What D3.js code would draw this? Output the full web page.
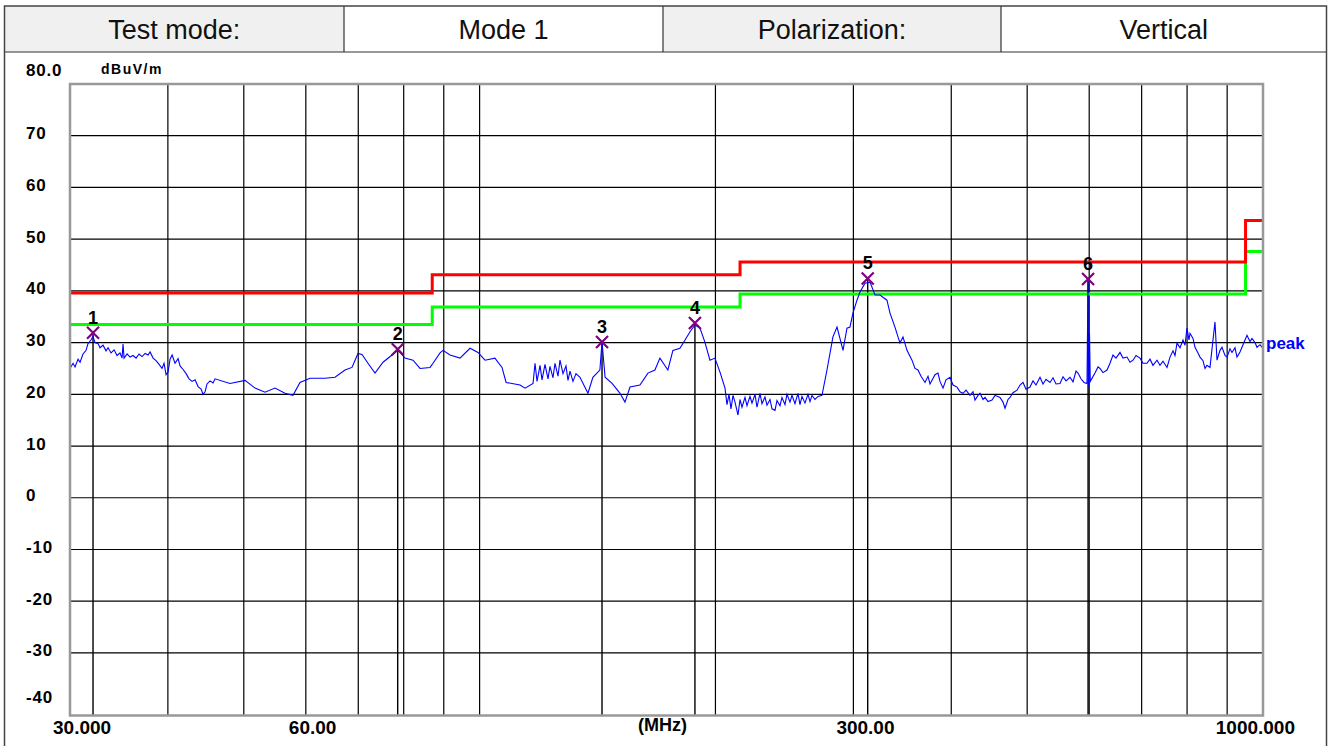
<!DOCTYPE html>
<html>
<head>
<meta charset="utf-8">
<script src="https://cdn.jsdelivr.net/npm/d3@7"></script>
<style>
  html, body { margin: 0; padding: 0; background: #fff; }
  svg { display: block; }
  text { font-family: "Liberation Sans", Arial, sans-serif; }
</style>
</head>
<body>
<svg id="chart" width="1333" height="746"></svg>
<script>
// ---------------- data ----------------
const headerTexts = ["Test mode:", "Mode 1", "Polarization:", "Vertical"];
const yUnit = "dBuV/m";
const xUnit = "(MHz)";
const yTickValues = [70, 60, 50, 40, 30, 20, 10, 0, -10, -20, -30];
const yLabelValues = [80, 70, 60, 50, 40, 30, 20, 10, 0, -10, -20, -30, -40];
const xGridFreqs = [40, 50, 60, 70, 80, 90, 100, 200, 300, 400, 500, 600, 700, 800, 900];
const xLabelFreqs = [30, 60, 300, 1000];
const xLabelTexts = ["30.000", "60.00", "300.00", "1000.000"];

const limitFreqs = [30, 87, 215, 950, 1000];
const limitQP = [39.6, 43.1, 45.6, 53.6];
const limitMargin = [33.5, 36.9, 39.4, 47.6];

// measured peak trace (MHz / dBuV/m)
const traceFreqs = [
  // 30 - 46 MHz
  30.00, 30.27, 30.45, 30.72, 30.90, 31.17, 31.45, 31.63, 31.91, 32.10,
  32.29, 32.58, 32.77, 33.06, 33.35, 33.55, 33.85, 34.15, 34.45, 34.75,
  34.96, 35.06, 35.17, 35.48, 35.79, 36.11, 36.43, 36.75, 37.08, 37.41,
  37.74, 37.96, 38.30, 38.63, 38.98, 39.32, 39.55, 39.79, 40.02, 40.26,
  40.50, 40.85, 41.22, 41.46, 41.83, 42.20, 42.57, 42.95, 43.33, 43.71,
  44.10, 44.36, 44.62, 44.88, 45.28, 45.68, 45.95,
  // 48 - 114 MHz
  48.01, 50.18, 51.68, 53.22, 54.80, 56.44, 57.78, 58.98, 60.74, 63.48,
  65.37, 67.32, 68.72, 69.95, 70.77, 72.03, 73.53, 75.28, 77.30, 78.67,
  80.31, 82.22, 83.93, 86.44, 87.20, 89.02, 89.81, 91.67, 94.40, 97.22,
  99.53, 101.6, 104.6, 106.8, 108.1, 112.6, 114.3,
  // 117 - 134 MHz
  117.0, 117.69, 118.38, 119.43, 120.13, 121.19, 122.26, 122.98, 124.07, 124.80,
  125.91, 126.65, 127.77, 128.90, 129.66, 130.43, 131.58, 132.74, 134.32,
  // 137 - 206 MHz
  137.5, 139.5, 142.4, 143.3, 144.6, 147.6, 151.1, 153.3, 155.6, 160.2,
  164.0, 167.4, 169.9, 173.9, 176.5, 180.2, 182.9, 185.6, 188.3, 191.1,
  193.9, 196.8, 199.7, 202.7, 205.7,
  // 207 - 274 MHz
  206.91, 208.13, 209.36, 210.59, 211.84, 213.71, 214.97, 216.24, 218.16, 219.44,
  221.38, 222.69, 224.66, 225.98, 227.98, 229.33, 231.36, 232.72, 234.78, 236.16,
  238.25, 239.66, 241.78, 243.21, 245.36, 246.81, 248.99, 250.46, 252.68, 254.92,
  256.42, 257.93, 260.21, 262.52, 264.07, 265.63, 267.98, 270.35, 273.55,
  // 277 - 351 MHz
  277.6, 282.5, 285.9, 291.0, 294.4, 297.0, 299.6, 303.2, 305.9, 310.4,
  315.0, 319.7, 324.4, 331.1, 334.1, 339.0, 344.0, 347.1, 351.2,
  // 356 - 596 MHz
  356.40, 359.56, 362.74, 365.96, 370.29, 373.57, 375.77, 377.99, 381.33, 384.71,
  386.98, 390.41, 393.87, 398.53, 402.06, 406.81, 410.41, 414.05, 417.71, 422.65,
  426.39, 428.91, 432.71, 435.26, 439.12, 441.71, 445.62, 450.89, 454.88, 461.62,
  465.71, 468.46, 472.61, 475.40, 479.61, 485.28, 489.58, 493.91, 498.29, 504.18,
  508.64, 513.15, 519.21, 523.81, 528.45, 534.70, 539.43, 544.21, 550.64, 555.52,
  560.44, 567.07, 572.09, 577.16, 580.56, 585.70, 590.89, 596.12,
  // spike near 598 MHz
  597.9, 598.8, 600.5, 601.9,
  // 610 - 1000 MHz
  610.30, 615.70, 619.34, 624.83, 632.22, 637.82, 643.47, 649.17, 656.85, 662.66,
  670.50, 676.44, 682.43, 688.47, 696.61, 702.78, 711.09, 717.39, 723.74, 732.30,
  738.79, 745.33, 754.15, 760.83, 767.56, 772.09, 776.64, 783.52, 790.46, 795.12,
  799.81, 804.52, 806.89, 814.03, 818.83, 826.08, 830.95, 838.31, 843.25, 848.22,
  855.73, 863.31, 868.40, 873.52, 881.25, 886.45, 894.30, 899.57, 907.54, 912.89,
  920.97, 926.40, 934.61, 940.12, 948.44, 954.03, 962.48, 968.15, 976.73, 982.49,
  991.19, 1000.0
];
const traceLevels = [
  // 30 - 46 MHz
  25.0, 26.0, 25.3, 26.8, 26.2, 27.8, 28.5, 29.8, 30.5, 31.2,
  30.0, 29.8, 29.0, 29.5, 28.4, 29.0, 28.0, 28.6, 27.5, 28.0,
  27.0, 29.7, 27.0, 27.8, 27.2, 27.5, 27.0, 27.8, 27.3, 27.9,
  27.6, 28.2, 27.0, 26.5, 25.8, 25.0, 26.0, 23.8, 24.3, 26.8,
  27.6, 26.0, 26.9, 25.5, 24.8, 24.0, 23.0, 22.5, 22.8, 21.5,
  21.0, 20.0, 20.5, 22.0, 22.6, 22.2, 23.0,
  // 48 - 114 MHz
  22.1, 22.7, 21.2, 20.4, 21.2, 20.2, 19.8, 22.3, 23.1, 23.1,
  23.3, 24.7, 25.2, 27.9, 27.7, 26.0, 24.1, 26.2, 27.6, 28.5,
  27.0, 26.6, 25.0, 25.2, 26.0, 28.0, 28.5, 27.6, 27.0, 28.9,
  28.1, 26.6, 27.0, 25.2, 22.3, 21.8, 21.2,
  // 117 - 134 MHz
  22.1, 26.0, 22.5, 25.6, 22.8, 25.8, 23.0, 25.4, 23.2, 26.0,
  23.5, 26.6, 24.0, 25.5, 22.7, 24.5, 22.5, 24.0, 23.3,
  // 137 - 206 MHz
  20.2, 23.3, 24.7, 30.1, 23.3, 22.1, 20.2, 18.5, 21.4, 21.8,
  24.1, 24.7, 27.0, 24.7, 28.5, 28.9, 30.5, 32.1, 33.4, 32.8,
  30.1, 26.6, 27.0, 24.3, 21.2,
  // 207 - 274 MHz
  18.0, 20.0, 17.2, 19.8, 18.5, 16.0, 19.0, 17.5, 19.4, 17.8,
  19.6, 18.3, 20.0, 17.5, 20.2, 18.2, 19.5, 17.9, 19.0, 17.2,
  16.9, 18.8, 17.8, 19.4, 18.0, 20.0, 18.5, 19.8, 18.2, 20.2,
  18.0, 19.6, 18.3, 20.0, 18.6, 19.8, 19.0, 19.6, 19.8,
  // 277 - 351 MHz
  24.7, 31.1, 33.0, 28.5, 32.8, 33.0, 35.7, 38.2, 39.8, 41.5,
  41.7, 39.2, 39.2, 38.2, 35.7, 33.0, 29.9, 31.1, 28.5,
  // 356 - 596 MHz
  26.6, 25.0, 24.7, 23.5, 22.3, 23.5, 22.0, 22.7, 23.8, 24.1,
  22.5, 21.2, 22.8, 23.3, 21.8, 21.4, 20.5, 20.2, 20.8, 19.8,
  20.5, 18.9, 19.8, 20.2, 19.0, 19.4, 18.6, 18.9, 19.8, 19.4,
  18.5, 17.3, 19.0, 19.4, 20.3, 20.8, 21.8, 22.3, 21.0, 21.4,
  22.6, 21.8, 23.3, 22.0, 22.9, 22.3, 23.2, 22.0, 22.1, 23.4,
  22.6, 23.3, 22.4, 24.5, 24.1, 23.0, 22.3, 22.1,
  // spike near 598 MHz
  42.1, 21.5, 31.8, 22.5,
  // 610 - 1000 MHz
  24.1, 25.3, 25.0, 24.2, 24.7, 26.0, 27.6, 27.0, 28.1, 27.0,
  27.2, 26.2, 26.6, 27.5, 27.0, 26.0, 26.0, 26.8, 25.6, 26.6,
  25.6, 26.4, 25.2, 27.2, 28.4, 27.5, 29.9, 29.0, 30.5, 29.5,
  32.8, 30.5, 31.8, 30.8, 29.1, 28.0, 27.2, 26.5, 25.0, 25.6,
  25.2, 30.5, 34.0, 26.6, 28.5, 29.1, 27.5, 27.2, 28.8, 28.1,
  29.0, 27.2, 28.2, 29.1, 30.5, 31.4, 30.2, 30.8, 30.0, 29.1,
  29.6, 28.9
];

const markerIds = ["1", "2", "3", "4", "5", "6"];
const markerFreqs = [32.1, 78.6, 143.3, 188.3, 312.9, 598.0];
const markerLevels = [31.9, 28.7, 30.1, 33.8, 42.4, 42.3];
const traceName = "peak";

// ---------------- layout ----------------
const W = 1333, H = 746;
const outer = { x0: 4.5, x1: 1326.5, y0: 6, headerBottom: 52 };
const plot = { left: 70, right: 1263, top: 84, bottom: 715.5 };
const headerCols = [4.5, 344, 663, 1001, 1326.5];
const headerFill = ["#f0f0f0", "#ffffff", "#f0f0f0", "#ffffff"];

const svg = d3.select("#chart");

const x = d3.scaleLog().domain([30, 1000]).range([plot.left, plot.right]);
const y = d3.scaleLinear().domain([-42.1, 80]).range([plot.bottom, plot.top]);

// ---------------- header table ----------------
const hdr = svg.append("g");
headerTexts.forEach((t, i) => {
  hdr.append("rect")
    .attr("x", headerCols[i]).attr("y", outer.y0)
    .attr("width", headerCols[i + 1] - headerCols[i])
    .attr("height", outer.headerBottom - outer.y0)
    .attr("fill", headerFill[i]);
  hdr.append("text")
    .attr("x", (headerCols[i] + headerCols[i + 1]) / 2)
    .attr("y", (outer.y0 + outer.headerBottom) / 2 + 1)
    .attr("text-anchor", "middle").attr("dominant-baseline", "central")
    .attr("font-size", 27).attr("fill", "#111")
    .text(t);
});
headerCols.slice(1, -1).forEach(cx => {
  hdr.append("line").attr("x1", cx).attr("x2", cx)
    .attr("y1", outer.y0).attr("y2", outer.headerBottom)
    .attr("stroke", "#333").attr("stroke-width", 1.2);
});
hdr.append("line").attr("x1", outer.x0).attr("x2", outer.x1)
  .attr("y1", outer.headerBottom).attr("y2", outer.headerBottom)
  .attr("stroke", "#333").attr("stroke-width", 1.2);
svg.append("rect")
  .attr("x", outer.x0).attr("y", outer.y0)
  .attr("width", outer.x1 - outer.x0).attr("height", H + 10)
  .attr("fill", "none").attr("stroke", "#444").attr("stroke-width", 1.5);

// ---------------- plot area ----------------
const g = svg.append("g");
g.append("rect")
  .attr("x", plot.left).attr("y", plot.top)
  .attr("width", plot.right - plot.left).attr("height", plot.bottom - plot.top)
  .attr("fill", "#fff");

// grid
g.selectAll(".hgrid").data(yTickValues).enter().append("line")
  .attr("x1", plot.left).attr("x2", plot.right)
  .attr("y1", d => y(d)).attr("y2", d => y(d))
  .attr("stroke", "#000").attr("stroke-width", 1.2);
g.selectAll(".vgrid").data(xGridFreqs).enter().append("line")
  .attr("x1", d => x(d)).attr("x2", d => x(d))
  .attr("y1", plot.top).attr("y2", plot.bottom)
  .attr("stroke", "#000").attr("stroke-width", 1.2);

// marker drop lines
markerFreqs.forEach((f, i) => {
  g.append("line")
    .attr("x1", x(f)).attr("x2", x(f))
    .attr("y1", y(markerLevels[i])).attr("y2", plot.bottom)
    .attr("stroke", "#000").attr("stroke-width", 1.4);
});

// limit lines
function stepPoints(levels) {
  const pts = levels.map((l, i) => [limitFreqs[i], l]);
  pts.push([limitFreqs[limitFreqs.length - 1], levels[levels.length - 1]]);
  return pts;
}
const stepLine = d3.line().x(d => x(d[0])).y(d => y(d[1])).curve(d3.curveStepAfter);
g.append("path").attr("d", stepLine(stepPoints(limitMargin)))
  .attr("fill", "none").attr("stroke", "#00ff00").attr("stroke-width", 3);
g.append("path").attr("d", stepLine(stepPoints(limitQP)))
  .attr("fill", "none").attr("stroke", "#ff0000").attr("stroke-width", 3);

// trace
const traceData = traceFreqs.map((f, i) => [f, traceLevels[i]]);
const line = d3.line().x(d => x(d[0])).y(d => y(d[1]));
g.append("path").attr("d", line(traceData))
  .attr("fill", "none").attr("stroke", "#0000ff").attr("stroke-width", 1.1);

// plot frame
g.append("rect")
  .attr("x", plot.left).attr("y", plot.top)
  .attr("width", plot.right - plot.left).attr("height", plot.bottom - plot.top)
  .attr("fill", "none").attr("stroke", "#999").attr("stroke-width", 2.5);

// markers
markerFreqs.forEach((f, i) => {
  const cx = x(f), cy = y(markerLevels[i]), s = 6;
  g.append("path")
    .attr("d", `M${cx - s},${cy - s}L${cx + s},${cy + s}M${cx - s},${cy + s}L${cx + s},${cy - s}`)
    .attr("stroke", "#800080").attr("stroke-width", 2.2).attr("fill", "none");
  g.append("text")
    .attr("x", cx).attr("y", cy - 9)
    .attr("text-anchor", "middle")
    .attr("font-size", 18).attr("font-weight", "bold").attr("fill", "#000")
    .text(markerIds[i]);
});

// trace name
g.append("text")
  .attr("x", plot.right + 3).attr("y", y(traceLevels[traceLevels.length - 1]) - 5)
  .attr("dominant-baseline", "central")
  .attr("font-size", 17).attr("font-weight", "bold").attr("fill", "#0000ff")
  .text(traceName);

// ---------------- axis labels ----------------
yLabelValues.forEach((v, i) => {
  let ty = y(v) - 2;
  if (i === 0) ty = plot.top - 14;
  if (i === yLabelValues.length - 1) ty = plot.bottom - 18;
  svg.append("text")
    .attr("x", 26).attr("y", ty)
    .attr("dominant-baseline", "central")
    .attr("font-size", 17).attr("font-weight", "bold").attr("letter-spacing", 0.8)
    .attr("fill", "#000")
    .text(i === 0 ? d3.format(".1f")(v) : v);
});
svg.append("text")
  .attr("x", 101).attr("y", plot.top - 15)
  .attr("dominant-baseline", "central")
  .attr("font-size", 14).attr("font-weight", "bold").attr("letter-spacing", 1.5)
  .attr("fill", "#000")
  .text(yUnit);

xLabelFreqs.forEach((f, i) => {
  const last = i === xLabelFreqs.length - 1;
  svg.append("text")
    .attr("x", last ? x(f) + 32 : x(f) - 17)
    .attr("y", plot.bottom + 12)
    .attr("text-anchor", last ? "end" : "start")
    .attr("dominant-baseline", "central")
    .attr("font-size", 19).attr("font-weight", "bold")
    .attr("fill", "#000")
    .text(xLabelTexts[i]);
});
svg.append("text")
  .attr("x", (plot.left + plot.right) / 2 - 4).attr("y", plot.bottom + 9)
  .attr("text-anchor", "middle").attr("dominant-baseline", "central")
  .attr("font-size", 18).attr("font-weight", "bold").attr("fill", "#000")
  .text(xUnit);
</script>
</body>
</html>
